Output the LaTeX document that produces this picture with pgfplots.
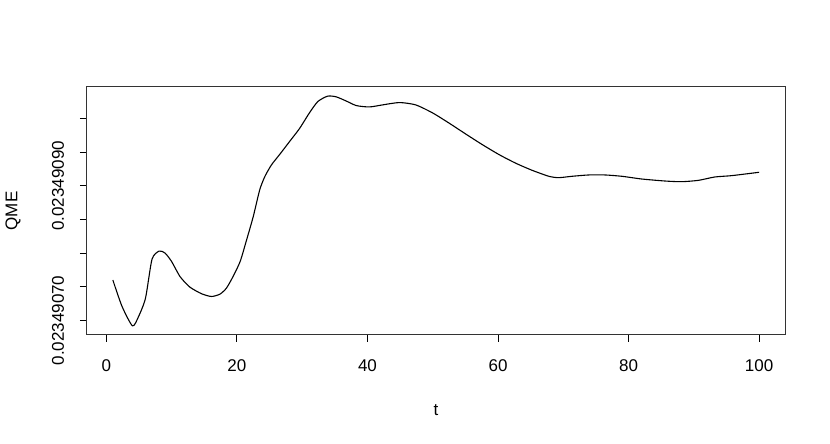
\documentclass[border=0pt]{standalone}
\usepackage{fontspec}
\setmainfont{Liberation Sans}
\usepackage{pgfplots}
\pgfplotsset{compat=1.18}

% QME is stored as (value - 0.02349070) * 1e8, so ticks 0 and 20 are 0.02349070 and 0.02349090
\pgfplotstableread{
t    q
1.0  6.0
2.4  2.1
4.0  -0.8
4.9  0.5
6.0  3.3
7.0  9.1
8.1  10.3
9.0  10.0
10.0 8.75
11.3 6.5
12.8 4.95
14.6 3.96
16.1 3.56
17.4 3.9
18.4 4.8
19.4 6.5
20.5 8.75
21.5 12.0
22.5 15.4
23.5 19.4
24.3 21.4
25.3 23.1
26.6 24.7
28.1 26.6
29.6 28.5
31.1 30.8
32.4 32.5
33.9 33.3
35.2 33.2
36.7 32.6
38.3 31.9
40.3 31.7
42.3 32.0
44.9 32.35
47.4 32.0
50.0 30.8
52.5 29.3
55.1 27.65
57.6 26.1
60.2 24.6
62.7 23.35
65.2 22.3
67.8 21.4
69.3 21.2
71.3 21.4
73.9 21.6
76.4 21.6
79.0 21.4
82.0 21.0
85.6 20.7
88.1 20.6
90.7 20.8
93.2 21.3
95.8 21.5
100.0 22.0
}\qme

\begin{document}
\begin{tikzpicture}[font=\fontsize{8.5}{10}\selectfont]
\useasboundingbox (-43.5pt,-54.5pt) rectangle (371.5pt,167.5pt);
\begin{axis}[
    at={(0pt,0pt)}, anchor=south west,
    scale only axis, width=349pt, height=124pt,
    xmin=-2.96, xmax=103.96,
    ymin=-2.16, ymax=34.66,
    xtick={0,20,...,100},
    ytick={0,5,...,30},
    yticklabels={0.02349070,{},{},{},0.02349090,{},{}},
    /pgf/number format/assume math mode=true,
    tick align=outside,
    xtick pos=lower, ytick pos=left,
    major tick length=3.5pt,
    tick style={black, line width=0.5pt},
    axis line style={black!80, line width=0.5pt},
    xticklabel style={anchor=center, yshift=-12pt},
    yticklabel style={xshift=-11pt, rotate=90, anchor=center},
    xlabel={t}, ylabel={QME},
    xlabel style={at={(axis description cs:0.5,-0.302)}, anchor=center},
    ylabel style={at={(axis description cs:-0.106,0.5)}, anchor=center},
]
\addplot[black, line width=0.55pt, smooth, tension=0.4] table[x=t, y=q] {\qme};
\end{axis}
\end{tikzpicture}
\end{document}
